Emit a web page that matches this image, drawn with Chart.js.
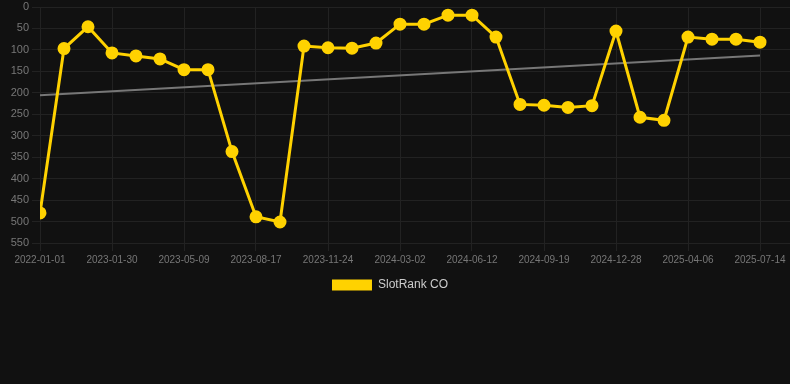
<!DOCTYPE html>
<html>
<head>
<meta charset="utf-8">
<script src="https://cdn.jsdelivr.net/npm/chart.js@4/dist/chart.umd.min.js"></script>
<style>
  html, body { margin: 0; padding: 0; background: #111111; }
  #wrap { position: relative; width: 790px; height: 301px; }
</style>
</head>
<body>
<div id="wrap"><canvas id="c"></canvas></div>
<script>
const categories = [
  '2022-01-01','2022-11-25','2022-12-28','2023-01-30','2023-03-04','2023-04-06',
  '2023-05-09','2023-06-11','2023-07-14','2023-08-17','2023-09-19','2023-10-22',
  '2023-11-24','2023-12-27','2024-01-29','2024-03-02','2024-04-05','2024-05-09',
  '2024-06-12','2024-07-15','2024-08-17','2024-09-19','2024-10-22','2024-11-24',
  '2024-12-28','2025-01-30','2025-03-04','2025-04-06','2025-05-09','2025-06-11',
  '2025-07-14'
];
const rankValues = [
  480, 97, 46, 107, 114, 121, 146, 146, 337, 489, 501, 91, 95, 96, 84, 40,
  40, 19, 19, 70, 227, 229, 234, 230, 56, 257, 264, 70, 75, 75, 82
];
const yTicks = [0, 50, 100, 150, 200, 250, 300, 350, 400, 450, 500, 550];
const seriesName = 'SlotRank CO';

// least-squares trend of the series
const n = rankValues.length;
const mx = (n - 1) / 2;
const my = rankValues.reduce((a, b) => a + b, 0) / n;
let sxy = 0, sxx = 0;
rankValues.forEach((v, i) => { sxy += (i - mx) * (v - my); sxx += (i - mx) * (i - mx); });
const slope = sxy / sxx;
const trendPoints = [
  { x: 0, y: my + slope * (0 - mx) },
  { x: n - 1, y: my + slope * (n - 1 - mx) }
];
const mainPoints = rankValues.map((v, i) => ({ x: i, y: v }));

const legendShift = {
  id: 'legendShift',
  afterLayout(chart) {
    if (chart.legend) { chart.legend.left -= 5; chart.legend.right -= 5; }
  }
};

new Chart(document.getElementById('c'), {
  type: 'line',
  plugins: [legendShift],
  data: {
    datasets: [
      { label: seriesName, data: mainPoints, borderColor: '#FFD200', backgroundColor: '#FFD200',
        pointBackgroundColor: '#FFD200', pointBorderColor: '#FFD200', borderWidth: 3,
        pointRadius: 5, pointHoverRadius: 5, tension: 0, order: 1 },
      { label: 'trend', data: trendPoints, borderColor: '#777777', backgroundColor: '#777777',
        borderWidth: 2, pointRadius: 0, tension: 0, order: 2 }
    ]
  },
  options: {
    responsive: true, maintainAspectRatio: false, animation: false,
    layout: { padding: 0, autoPadding: false },
    plugins: {
      tooltip: { enabled: false },
      legend: { position: 'bottom', labels: { color: '#cccccc',
        font: { size: 12, family: 'Liberation Sans, Arial, sans-serif' },
        boxWidth: 40, boxHeight: 11,
        generateLabels: (chart) => Chart.defaults.plugins.legend.labels.generateLabels(chart)
          .map(it => Object.assign(it, { lineWidth: 0 })),
        filter: (item) => item.text === seriesName } }
    },
    scales: {
      x: { type: 'linear', min: 0, max: 31.25,
        afterFit: (s) => { s.paddingLeft = 0; s.paddingRight = 0; },
        grid: { color: '#222222', tickLength: 8 }, border: { display: false },
        ticks: { stepSize: 3, includeBounds: false, autoSkip: false, maxRotation: 0, color: '#777777',
          font: { size: 10, family: 'Liberation Sans, Arial, sans-serif' },
          callback: (v) => categories[v] !== undefined ? categories[v] : '' } },
      y: { reverse: true, min: yTicks[0], max: yTicks[yTicks.length - 1],
        afterFit: (s) => { s.width = 40; s.paddingTop = 7; s.paddingBottom = 0; },
        afterBuildTicks: (s) => { s.ticks = yTicks.map(v => ({ value: v })); },
        grid: { color: '#222222', tickLength: 8 }, border: { display: false },
        ticks: { color: '#777777', font: { size: 11, family: 'Liberation Sans, Arial, sans-serif' } } }
    }
  }
});
</script>
</body>
</html>
